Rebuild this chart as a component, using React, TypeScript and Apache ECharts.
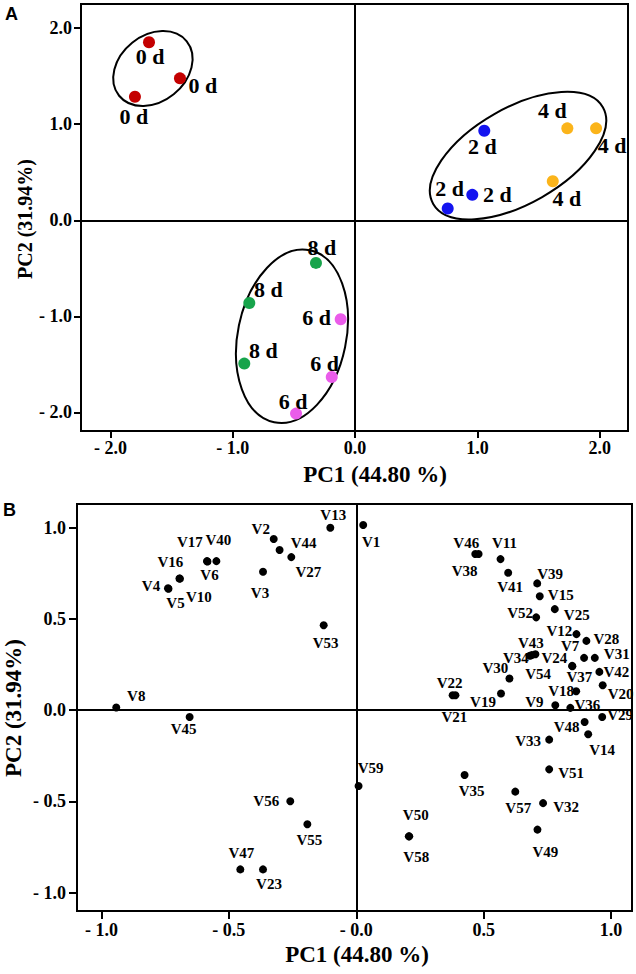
import React, { useEffect, useRef } from "react";
import * as echarts from "echarts";

// ---------- Panel A: sample scores ----------
const days = ["0 d", "2 d", "4 d", "6 d", "8 d"];
const pc1Day0 = [-1.685, -1.432, -1.8];
const pc2Day0 = [1.853, 1.478, 1.286];
const pc1Day2 = [1.056, 0.958, 0.757];
const pc2Day2 = [0.932, 0.265, 0.123];
const pc1Day4 = [1.735, 1.97, 1.616];
const pc2Day4 = [0.957, 0.957, 0.407];
const pc1Day6 = [-0.118, -0.191, -0.483];
const pc2Day6 = [-1.031, -1.632, -2.013];
const pc1Day8 = [-0.32, -0.865, -0.906];
const pc2Day8 = [-0.444, -0.861, -1.492];

// ---------- Panel B: variable loadings ----------
const varNames = [
  "V1", "V2", "V3", "V4", "V5", "V6", "V7", "V8", "V9", "V10",
  "V11", "V12", "V13", "V14", "V15", "V16", "V17", "V18", "V19", "V20",
  "V21", "V22", "V23", "V24", "V25", "V27", "V28", "V29", "V30", "V31",
  "V32", "V33", "V34", "V35", "V36", "V37", "V38", "V39", "V40", "V41",
  "V42", "V43", "V44", "V45", "V46", "V47", "V48", "V49", "V50", "V51",
  "V52", "V53", "V54", "V55", "V56", "V57", "V58", "V59",
];
const loadPC1 = [
  0.027, -0.324, -0.366, -0.739, -0.737, -0.584, 0.894, -0.942, 0.781, -0.692,
  0.566, 0.864, -0.102, 0.91, 0.72, -0.694, -0.586, 0.863, 0.568, 0.967,
  0.389, 0.378, -0.366, 0.703, 0.779, -0.255, 0.903, 0.965, 0.601, 0.936,
  0.733, 0.757, 0.681, 0.425, 0.84, 0.848, 0.48, 0.71, -0.549, 0.596,
  0.954, 0.689, -0.301, -0.654, 0.467, -0.455, 0.896, 0.711, 0.206, 0.757,
  0.706, -0.128, 0.847, -0.192, -0.259, 0.624, 0.208, 0.009,
];
const loadPC2 = [
  1.015, 0.938, 0.759, 0.668, 0.666, 0.815, 0.287, 0.015, 0.027, 0.721,
  0.828, 0.417, 1.0, -0.132, 0.625, 0.722, 0.817, 0.104, 0.092, 0.137,
  0.082, 0.082, -0.872, 0.307, 0.554, 0.839, 0.38, -0.037, 0.174, 0.287,
  -0.509, -0.161, 0.299, -0.355, 0.013, 0.241, 0.856, 0.695, 0.817, 0.753,
  0.21, 0.302, 0.878, -0.037, 0.856, -0.872, -0.064, -0.654, -0.691, -0.324,
  0.509, 0.466, 0.243, -0.625, -0.499, -0.446, -0.691, -0.415,
];

// ---------- tick labels ----------
const ticksA = [-2, -1, 0, 1, 2];
const tickLabelsAX = ["- 2.0", "- 1.0", "0.0", "1.0", "2.0"];
const tickLabelsAY = ["- 2.0", "- 1.0", "0.0", "1.0", "2.0"];
const ticksB = [-1, -0.5, 0, 0.5, 1];
const tickLabelsBX = ["- 1.0", "- 0.5", "- 0.0", "0.5", "1.0"];
const tickLabelsBY = ["- 1.0", "- 0.5", "0.0", "0.5", "1.0"];

// ---------- styling / annotation config ----------
const dayColors = ["#C40000", "#1414F0", "#FBB41A", "#EA5CEA", "#17A44B"];
const dayLabelOffsets: number[][][] = [
  [[1, 14], [23, 7], [-1, 20]],
  [[-2, 16], [25, 0], [2, -20]],
  [[-15, -18], [16, 17], [14, 17]],
  [[-24, -2], [-7, -14], [-3, -12]],
  [[6, -15], [19, -13], [19, -13]],
];
// ellipse: centre (data), semi-axes (px), rotation (deg, anticlockwise)
const ellipses = [
  [-1.653, 1.58, 43.4, 33.1, 38.8],
  [1.332, 0.673, 97.6, 47.9, 29.7],
  [-0.516, -1.208, 87.8, 54.2, 78.3],
];
const varLabelOffsets: Record<string, number[]> = {
  V1: [8, 17], V2: [-13, -10], V3: [-3, 21], V4: [-17, -2], V5: [7, 14],
  V6: [2, 14], V7: [-14, -12], V8: [20, -12], V9: [-21, -3], V10: [19, 18],
  V11: [4, -16], V12: [-17, -3], V13: [3, -13], V14: [14, 16], V15: [21, -1],
  V16: [-9, -16], V17: [-17, -19], V18: [-15, 0], V19: [-18, 9], V20: [18, 9],
  V21: [-1, 22], V22: [-3, -12], V23: [6, 15], V24: [19, 4], V25: [22, 6],
  V27: [17, 15], V28: [20, -2], V29: [18, -2], V30: [-14, -10], V31: [22, -4],
  V32: [23, 4], V33: [-21, 1], V34: [-14, 2], V35: [7, 16], V36: [17, -3],
  V37: [7, 11], V38: [-14, 17], V39: [13, -9], V40: [2, -21], V41: [2, 14],
  V42: [17, 0], V43: [-1, -12], V44: [24, -7], V45: [-6, 12], V46: [-9, -11],
  V47: [1, -16], V48: [-18, 5], V49: [8, 22], V50: [7, -21], V51: [22, 4],
  V52: [-16, -4], V53: [2, 18], V54: [-34, 8], V55: [2, 16], V56: [-24, 0],
  V57: [3, 16], V58: [7, 21], V59: [12, -18],
};

const SERIF = '"Liberation Serif", "Times New Roman", serif';
const SANS = '"Liberation Sans", Arial, sans-serif';

function makeAxis(
  gridIndex: number,
  min: number,
  max: number,
  ticks: number[],
  labels: string[],
  margin: number,
  tickLen: number
) {
  return {
    type: "value",
    gridIndex,
    min,
    max,
    axisLine: { show: true, onZero: false, lineStyle: { color: "#000", width: 2 } },
    axisTick: {
      show: true,
      inside: false,
      length: tickLen,
      customValues: ticks,
      lineStyle: { color: "#000", width: 2 },
    },
    axisLabel: {
      show: true,
      customValues: ticks,
      margin,
      color: "#000",
      fontFamily: SERIF,
      fontWeight: "bold",
      fontSize: 18,
      formatter: (v: number) => {
        const i = ticks.findIndex((t) => Math.abs(t - v) < 1e-6);
        return i >= 0 ? labels[i] : "";
      },
    },
    splitLine: { show: false },
  };
}

const zeroLines = (on: boolean) =>
  on
    ? {
        silent: true,
        symbol: ["none", "none"],
        label: { show: false },
        lineStyle: { color: "#000", width: 2, type: "solid" },
        emphasis: { disabled: true },
        data: [{ xAxis: 0 }, { yAxis: 0 }],
      }
    : undefined;

export default function App() {
  const ref = useRef<HTMLDivElement>(null);

  useEffect(() => {
    if (!ref.current) return;
    const chart = echarts.init(ref.current, undefined, { renderer: "svg" });

    const pc1Groups = [pc1Day0, pc1Day2, pc1Day4, pc1Day6, pc1Day8];
    const pc2Groups = [pc2Day0, pc2Day2, pc2Day4, pc2Day6, pc2Day8];

    const daySeries = days.map((d, gi) => ({
      type: "scatter",
      name: d,
      xAxisIndex: 0,
      yAxisIndex: 0,
      symbolSize: 12,
      itemStyle: { color: dayColors[gi], opacity: 1 },
      z: 3,
      label: {
        show: true,
        position: "inside",
        formatter: "{a}",
        color: "#000",
        fontFamily: SERIF,
        fontWeight: "bold",
        fontSize: 22,
      },
      markLine: zeroLines(gi === 0),
      data: pc1Groups[gi].map((x, i) => ({
        value: [x, pc2Groups[gi][i]],
        label: { offset: dayLabelOffsets[gi][i] },
      })),
    }));

    const ellipseSeries = {
      type: "custom",
      xAxisIndex: 0,
      yAxisIndex: 0,
      z: 2,
      silent: true,
      renderItem: (params: any, api: any) => {
        const c = api.coord([api.value(0), api.value(1)]);
        return {
          type: "ellipse",
          x: c[0],
          y: c[1],
          rotation: (api.value(4) * Math.PI) / 180,
          shape: { cx: 0, cy: 0, rx: api.value(2), ry: api.value(3) },
          style: { fill: "none", stroke: "#000", lineWidth: 2 },
        };
      },
      data: ellipses,
    };

    const varSeries = {
      type: "scatter",
      name: "loadings",
      xAxisIndex: 1,
      yAxisIndex: 1,
      symbolSize: 8,
      itemStyle: { color: "#000", opacity: 1 },
      z: 3,
      label: {
        show: true,
        position: "inside",
        formatter: "{b}",
        color: "#000",
        fontFamily: SERIF,
        fontWeight: "bold",
        fontSize: 15,
      },
      markLine: zeroLines(true),
      data: varNames.map((n, i) => ({
        name: n,
        value: [loadPC1[i], loadPC2[i]],
        label: { offset: varLabelOffsets[n] || [0, 14] },
      })),
    };

    chart.setOption({
      animation: false,
      backgroundColor: "#fff",
      grid: [
        {
          left: 81,
          top: 4,
          width: 547,
          height: 427,
          show: true,
          borderColor: "#000",
          borderWidth: 2,
          backgroundColor: "transparent",
        },
        {
          left: 77,
          top: 504,
          width: 555,
          height: 407,
          show: true,
          borderColor: "#000",
          borderWidth: 2,
          backgroundColor: "transparent",
        },
      ],
      xAxis: [
        makeAxis(0, -2.241, 2.231, ticksA, tickLabelsAX, 8, 7),
        makeAxis(1, -1.096, 1.082, ticksB, tickLabelsBX, 10, 8),
      ],
      yAxis: [
        makeAxis(0, -2.194, 2.252, ticksA, tickLabelsAY, 9, 7),
        makeAxis(1, -1.1, 1.13, ticksB, tickLabelsBY, 11, 8),
      ],
      graphic: [
        {
          type: "text",
          x: 11.5,
          y: 14,
          style: { text: "A", font: `bold 18px ${SANS}`, align: "center", verticalAlign: "middle", fill: "#000" },
        },
        {
          type: "text",
          x: 9.5,
          y: 509.5,
          style: { text: "B", font: `bold 18px ${SANS}`, align: "center", verticalAlign: "middle", fill: "#000" },
        },
        {
          type: "text",
          x: 375,
          y: 474,
          style: { text: "PC1 (44.80 %)", font: `bold 23px ${SERIF}`, align: "center", verticalAlign: "middle", fill: "#000" },
        },
        {
          type: "text",
          x: 25,
          y: 219,
          rotation: Math.PI / 2,
          style: { text: "PC2 (31.94%)", font: `bold 20px ${SERIF}`, align: "center", verticalAlign: "middle", fill: "#000" },
        },
        {
          type: "text",
          x: 357,
          y: 954,
          style: { text: "PC1 (44.80 %)", font: `bold 23px ${SERIF}`, align: "center", verticalAlign: "middle", fill: "#000" },
        },
        {
          type: "text",
          x: 13,
          y: 708,
          rotation: Math.PI / 2,
          style: { text: "PC2 (31.94%)", font: `bold 23px ${SERIF}`, align: "center", verticalAlign: "middle", fill: "#000" },
        },
      ],
      series: [ellipseSeries, ...daySeries, varSeries],
    });

    return () => chart.dispose();
  }, []);

  return (
    <div
      ref={ref}
      style={{ position: "fixed", left: 0, top: 0, width: 636, height: 974, background: "#fff" }}
    />
  );
}
